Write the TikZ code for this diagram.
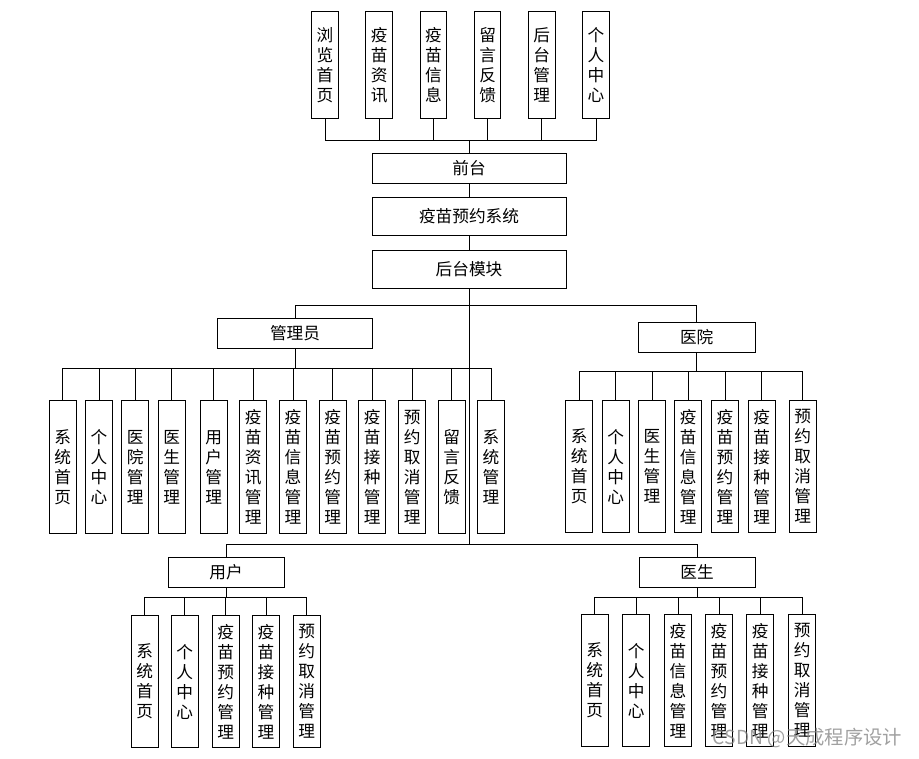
\documentclass[tikz,border=0pt]{standalone}
\usepackage{fontspec}
\setmainfont{Noto Sans CJK SC}
\tikzstyle{vbox}=[draw,line width=0.75pt,minimum width=20pt,align=center,inner sep=0pt,font=\fontsize{12.5}{15}\selectfont]
\tikzstyle{top}=[vbox,minimum height=80pt]
\tikzstyle{leaf}=[vbox,minimum height=99.5pt]
\tikzstyle{hbox}=[draw,line width=0.75pt,minimum height=22.5pt,inner sep=0pt,font=\fontsize{12.5}{15}\selectfont]
\tikzstyle{wire}=[line width=0.6pt]

\begin{document}
\begin{tikzpicture}[x=0.75pt,y=-0.75pt]
  \useasboundingbox (0,0) rectangle (919,758);

  % front end
  \node[top] (t1) at (325,65) {浏\\览\\首\\页};
  \node[top] (t2) at (379.2,65) {疫\\苗\\资\\讯};
  \node[top] (t3) at (433.4,65) {疫\\苗\\信\\息};
  \node[top] (t4) at (487.6,65) {留\\言\\反\\馈};
  \node[top] (t5) at (541.8,65) {后\\台\\管\\理};
  \node[top] (t6) at (596,65) {个\\人\\中\\心};
  \coordinate (topbus) at (469,140);

  \node[hbox,minimum width=145.5pt] (qt) at (469,168.3) {前台};
  \node[hbox,minimum width=145.5pt,minimum height=28.5pt] (sys) at (469,216) {疫苗预约系统};
  \node[hbox,minimum width=145.5pt,minimum height=28.2pt] (ht) at (469,269.5) {后台模块};
  \coordinate (mid1) at (469,305);
  \coordinate (mid2) at (469,544);

  % roles
  \node[hbox,minimum width=116pt] (gly) at (295,333.3) {管理员};
  \node[hbox,minimum width=87.5pt] (yy) at (696.7,337.3) {医院};
  \node[hbox,minimum width=87pt] (yh) at (226,572.3) {用户};
  \node[hbox,minimum width=87pt] (ys) at (697,572.3) {医生};

  % admin
  \node[leaf] (a1) at (62.7,467) {系\\统\\首\\页};
  \node[leaf] (a2) at (99,467) {个\\人\\中\\心};
  \node[leaf] (a3) at (135.3,467) {医\\院\\管\\理};
  \node[leaf] (a4) at (171.7,467) {医\\生\\管\\理};
  \node[leaf] (a5) at (213.7,467) {用\\户\\管\\理};
  \node[leaf] (a6) at (253.3,467) {疫\\苗\\资\\讯\\管\\理};
  \node[leaf] (a7) at (293,467) {疫\\苗\\信\\息\\管\\理};
  \node[leaf] (a8) at (332.7,467) {疫\\苗\\预\\约\\管\\理};
  \node[leaf] (a9) at (372.3,467) {疫\\苗\\接\\种\\管\\理};
  \node[leaf] (a10) at (412.3,467) {预\\约\\取\\消\\管\\理};
  \node[leaf] (a11) at (451.7,467) {留\\言\\反\\馈};
  \node[leaf] (a12) at (491,467) {系\\统\\管\\理};
  \coordinate (glybus) at (295,368);

  % hospital
  \node[leaf] (b1) at (579.3,466.5) {系\\统\\首\\页};
  \node[leaf] (b2) at (615.7,466.5) {个\\人\\中\\心};
  \node[leaf] (b3) at (652,466.5) {医\\生\\管\\理};
  \node[leaf] (b4) at (688.3,466.5) {疫\\苗\\信\\息\\管\\理};
  \node[leaf] (b5) at (725,466.5) {疫\\苗\\预\\约\\管\\理};
  \node[leaf] (b6) at (761.7,466.5) {疫\\苗\\接\\种\\管\\理};
  \node[leaf] (b7) at (802.7,466.5) {预\\约\\取\\消\\管\\理};
  \coordinate (yybus) at (696.7,371);

  % user
  \node[leaf] (c1) at (144.7,681.5) {系\\统\\首\\页};
  \node[leaf] (c2) at (184.7,681.5) {个\\人\\中\\心};
  \node[leaf] (c3) at (225.7,681.5) {疫\\苗\\预\\约\\管\\理};
  \node[leaf] (c4) at (266,681.5) {疫\\苗\\接\\种\\管\\理};
  \node[leaf] (c5) at (306.7,681.5) {预\\约\\取\\消\\管\\理};
  \coordinate (yhbus) at (226,597.7);

  % doctor
  \node[leaf] (d1) at (594.7,680.5) {系\\统\\首\\页};
  \node[leaf] (d2) at (636.3,680.5) {个\\人\\中\\心};
  \node[leaf] (d3) at (678,680.5) {疫\\苗\\信\\息\\管\\理};
  \node[leaf] (d4) at (719,680.5) {疫\\苗\\预\\约\\管\\理};
  \node[leaf] (d5) at (760.3,680.5) {疫\\苗\\接\\种\\管\\理};
  \node[leaf] (d6) at (802.3,680.5) {预\\约\\取\\消\\管\\理};
  \coordinate (ysbus) at (697,597);

  \draw[wire] (t1.south) |- (topbus) (t2.south) |- (topbus) (t3.south) |- (topbus)
    (t4.south) |- (topbus) (t5.south) |- (topbus) (t6.south) |- (topbus);
  \draw[wire] (topbus) -- (qt.north);
  \draw[wire] (qt.south) -- (sys.north);
  \draw[wire] (sys.south) -- (ht.north);
  \draw[wire] (ht.south) -- (mid2);
  \draw[wire] (gly.north) |- (mid1) (yy.north) |- (mid1);
  \draw[wire] (yh.north) |- (mid2) (ys.north) |- (mid2);

  \draw[wire] (gly.south) -- (glybus) (a1.north) |- (glybus) (a2.north) |- (glybus)
    (a3.north) |- (glybus) (a4.north) |- (glybus) (a5.north) |- (glybus)
    (a6.north) |- (glybus) (a7.north) |- (glybus) (a8.north) |- (glybus)
    (a9.north) |- (glybus) (a10.north) |- (glybus) (a11.north) |- (glybus)
    (a12.north) |- (glybus);
  \draw[wire] (yy.south) -- (yybus) (b1.north) |- (yybus) (b2.north) |- (yybus)
    (b3.north) |- (yybus) (b4.north) |- (yybus) (b5.north) |- (yybus)
    (b6.north) |- (yybus) (b7.north) |- (yybus);
  \draw[wire] (yh.south) -- (yhbus) (c1.north) |- (yhbus) (c2.north) |- (yhbus)
    (c3.north) |- (yhbus) (c4.north) |- (yhbus) (c5.north) |- (yhbus);
  \draw[wire] (ys.south) -- (ysbus) (d1.north) |- (ysbus) (d2.north) |- (ysbus)
    (d3.north) |- (ysbus) (d4.north) |- (ysbus) (d5.north) |- (ysbus)
    (d6.north) |- (ysbus);

  \node[text=gray,opacity=0.75,font=\fontsize{14.5}{16}\selectfont] (wm) at (807.5,738) {CSDN @天成程序设计};
\end{tikzpicture}
\end{document}
